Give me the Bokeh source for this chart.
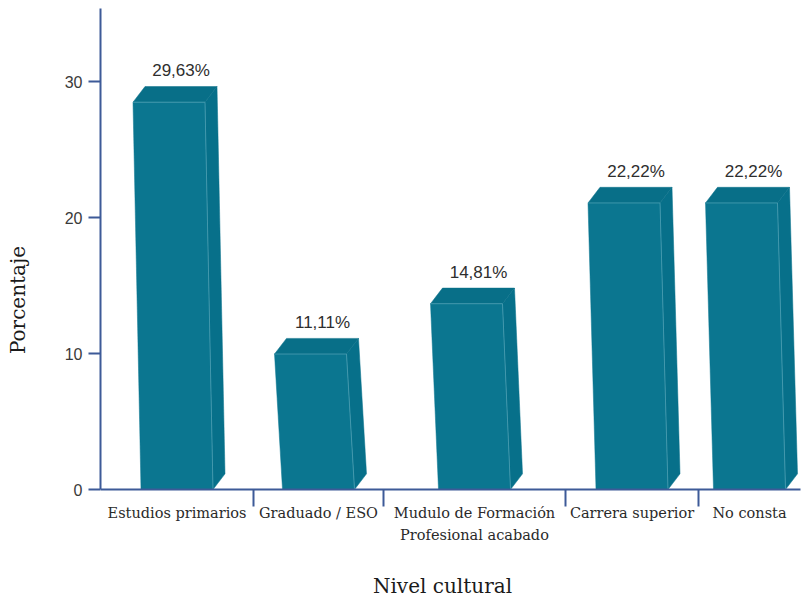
from bokeh.plotting import figure
from bokeh.models import Range1d, LinearAxis, FixedTicker
from bokeh.core.properties import value
from bokeh.embed import file_html
from bokeh.resources import INLINE

# Nivel cultural -> porcentaje
categorias = ["Estudios primarios", "Graduado / ESO",
              "Mudulo de Formación\nProfesional acabado",
              "Carrera superior", "No consta"]
porcentajes = [29.63, 11.11, 14.81, 22.22, 22.22]
y_ticks = [0, 10, 20, 30]

# horizontal layout of the category slots (x units are pixels of the frame)
slot_edges = [0, 153, 283, 465, 598, 700]

AXIS_BLUE = "#3d5a98"
FRONT = "#0b7690"
SIDE = "#07708a"
TOP = "#086f88"
EDGE = "#4d9fb3"

PX_PER_UNIT = 13.6           # vertical scale
PX = 1.0 / PX_PER_UNIT       # one pixel in y data units
Y_MAX_AXIS = 481 * PX

W = 800 + 1
H = 599
p = figure(width=W, height=H, output_backend="svg", toolbar_location=None,
           x_range=Range1d(0, 701),
           y_range=Range1d(-110 * PX, 489 * PX),
           min_border_left=100, min_border_right=0,
           min_border_top=0, min_border_bottom=0,
           x_axis_type=None, y_axis_type=None)
p.grid.visible = False
p.outline_line_color = None
p.background_fill_color = "white"
p.border_fill_color = "white"

# y axis
yax = LinearAxis(ticker=FixedTicker(ticks=y_ticks), bounds=(0, Y_MAX_AXIS))
yax.axis_line_color = AXIS_BLUE
yax.axis_line_width = 2
yax.major_tick_line_color = AXIS_BLUE
yax.major_tick_line_width = 2
yax.major_tick_out = 12
yax.major_tick_in = 0
yax.minor_tick_line_color = None
yax.major_label_text_font = "Liberation Sans"
yax.major_label_text_font_size = "16px"
yax.major_label_text_color = "#3a3a3a"
yax.major_label_standoff = 6
yax.axis_label = "Porcentaje"
yax.axis_label_text_font = "DejaVu Serif"
yax.axis_label_text_font_size = "20px"
yax.axis_label_text_font_style = "normal"
yax.axis_label_text_color = "#1a1a1a"
yax.axis_label_standoff = 32
p.add_layout(yax, "left")

# pseudo-3D bars
DX = 12          # depth offset in x
D = 1.15         # depth offset in y (data units)
HALF = 36        # half front width
SHIFT = 8        # lean of the front face
centers = [(a + b) / 2 for a, b in zip(slot_edges[:-1], slot_edges[1:])]

front_xs, front_ys, side_xs, side_ys, top_xs, top_ys = [], [], [], [], [], []
for c, v in zip(centers, porcentajes):
    ft = v - D
    front_xs.append([c - HALF - SHIFT, c + HALF - SHIFT, c + HALF, c - HALF])
    front_ys.append([ft, ft, 0, 0])
    side_xs.append([c + HALF - SHIFT, c + HALF - SHIFT + DX, c + HALF + DX, c + HALF])
    side_ys.append([ft, v, D, 0])
    top_xs.append([c - HALF - SHIFT, c - HALF - SHIFT + DX, c + HALF - SHIFT + DX, c + HALF - SHIFT])
    top_ys.append([ft, v, v, ft])

p.patches(side_xs, side_ys, fill_color=SIDE, line_color=SIDE, line_width=0.5)
p.patches(top_xs, top_ys, fill_color=TOP, line_color=TOP, line_width=0.5)
p.patches(front_xs, front_ys, fill_color=FRONT, line_color=FRONT, line_width=0.5)

# light edges on the front face
ex, ey = [], []
for c, v in zip(centers, porcentajes):
    ft = v - D
    ex.append([c - HALF - SHIFT, c + HALF - SHIFT, c + HALF])
    ey.append([ft, ft, 0])
p.multi_line(ex, ey, line_color=EDGE, line_width=1, line_alpha=0.8)

# value labels
p.text(x=[c + DX / 2 - SHIFT / 2 + 2 for c in centers],
       y=[v + 16 * PX for v in porcentajes],
       text=[f"{v:.2f}".replace(".", ",") + "%" for v in porcentajes],
       text_align="center", text_baseline="middle",
       text_font=value("Liberation Sans"), text_font_size="17px",
       text_color="#2e2e2e")

# x axis line and slot separators
p.segment(x0=[slot_edges[0]], y0=[0], x1=[slot_edges[-1]], y1=[0],
          line_color=AXIS_BLUE, line_width=2)
seps = slot_edges[1:-1]
p.segment(x0=seps, y0=[0] * len(seps), x1=seps, y1=[-17 * PX] * len(seps),
          line_color=AXIS_BLUE, line_width=2)

# category labels
p.text(x=centers, y=[-15 * PX] * len(centers), text=categorias,
       text_align="center", text_baseline="top",
       text_font=value("DejaVu Serif"), text_font_size="14.5px",
       text_line_height=1.42, text_color="#2a2a2a")

# x axis title
p.text(x=[(slot_edges[0] + slot_edges[-1]) / 2 - 8], y=[-96 * PX],
       text=["Nivel cultural"], text_align="center", text_baseline="middle",
       text_font=value("DejaVu Serif"), text_font_size="20px",
       text_color="#1a1a1a")

open("out.html", "w").write(file_html(p, INLINE))
